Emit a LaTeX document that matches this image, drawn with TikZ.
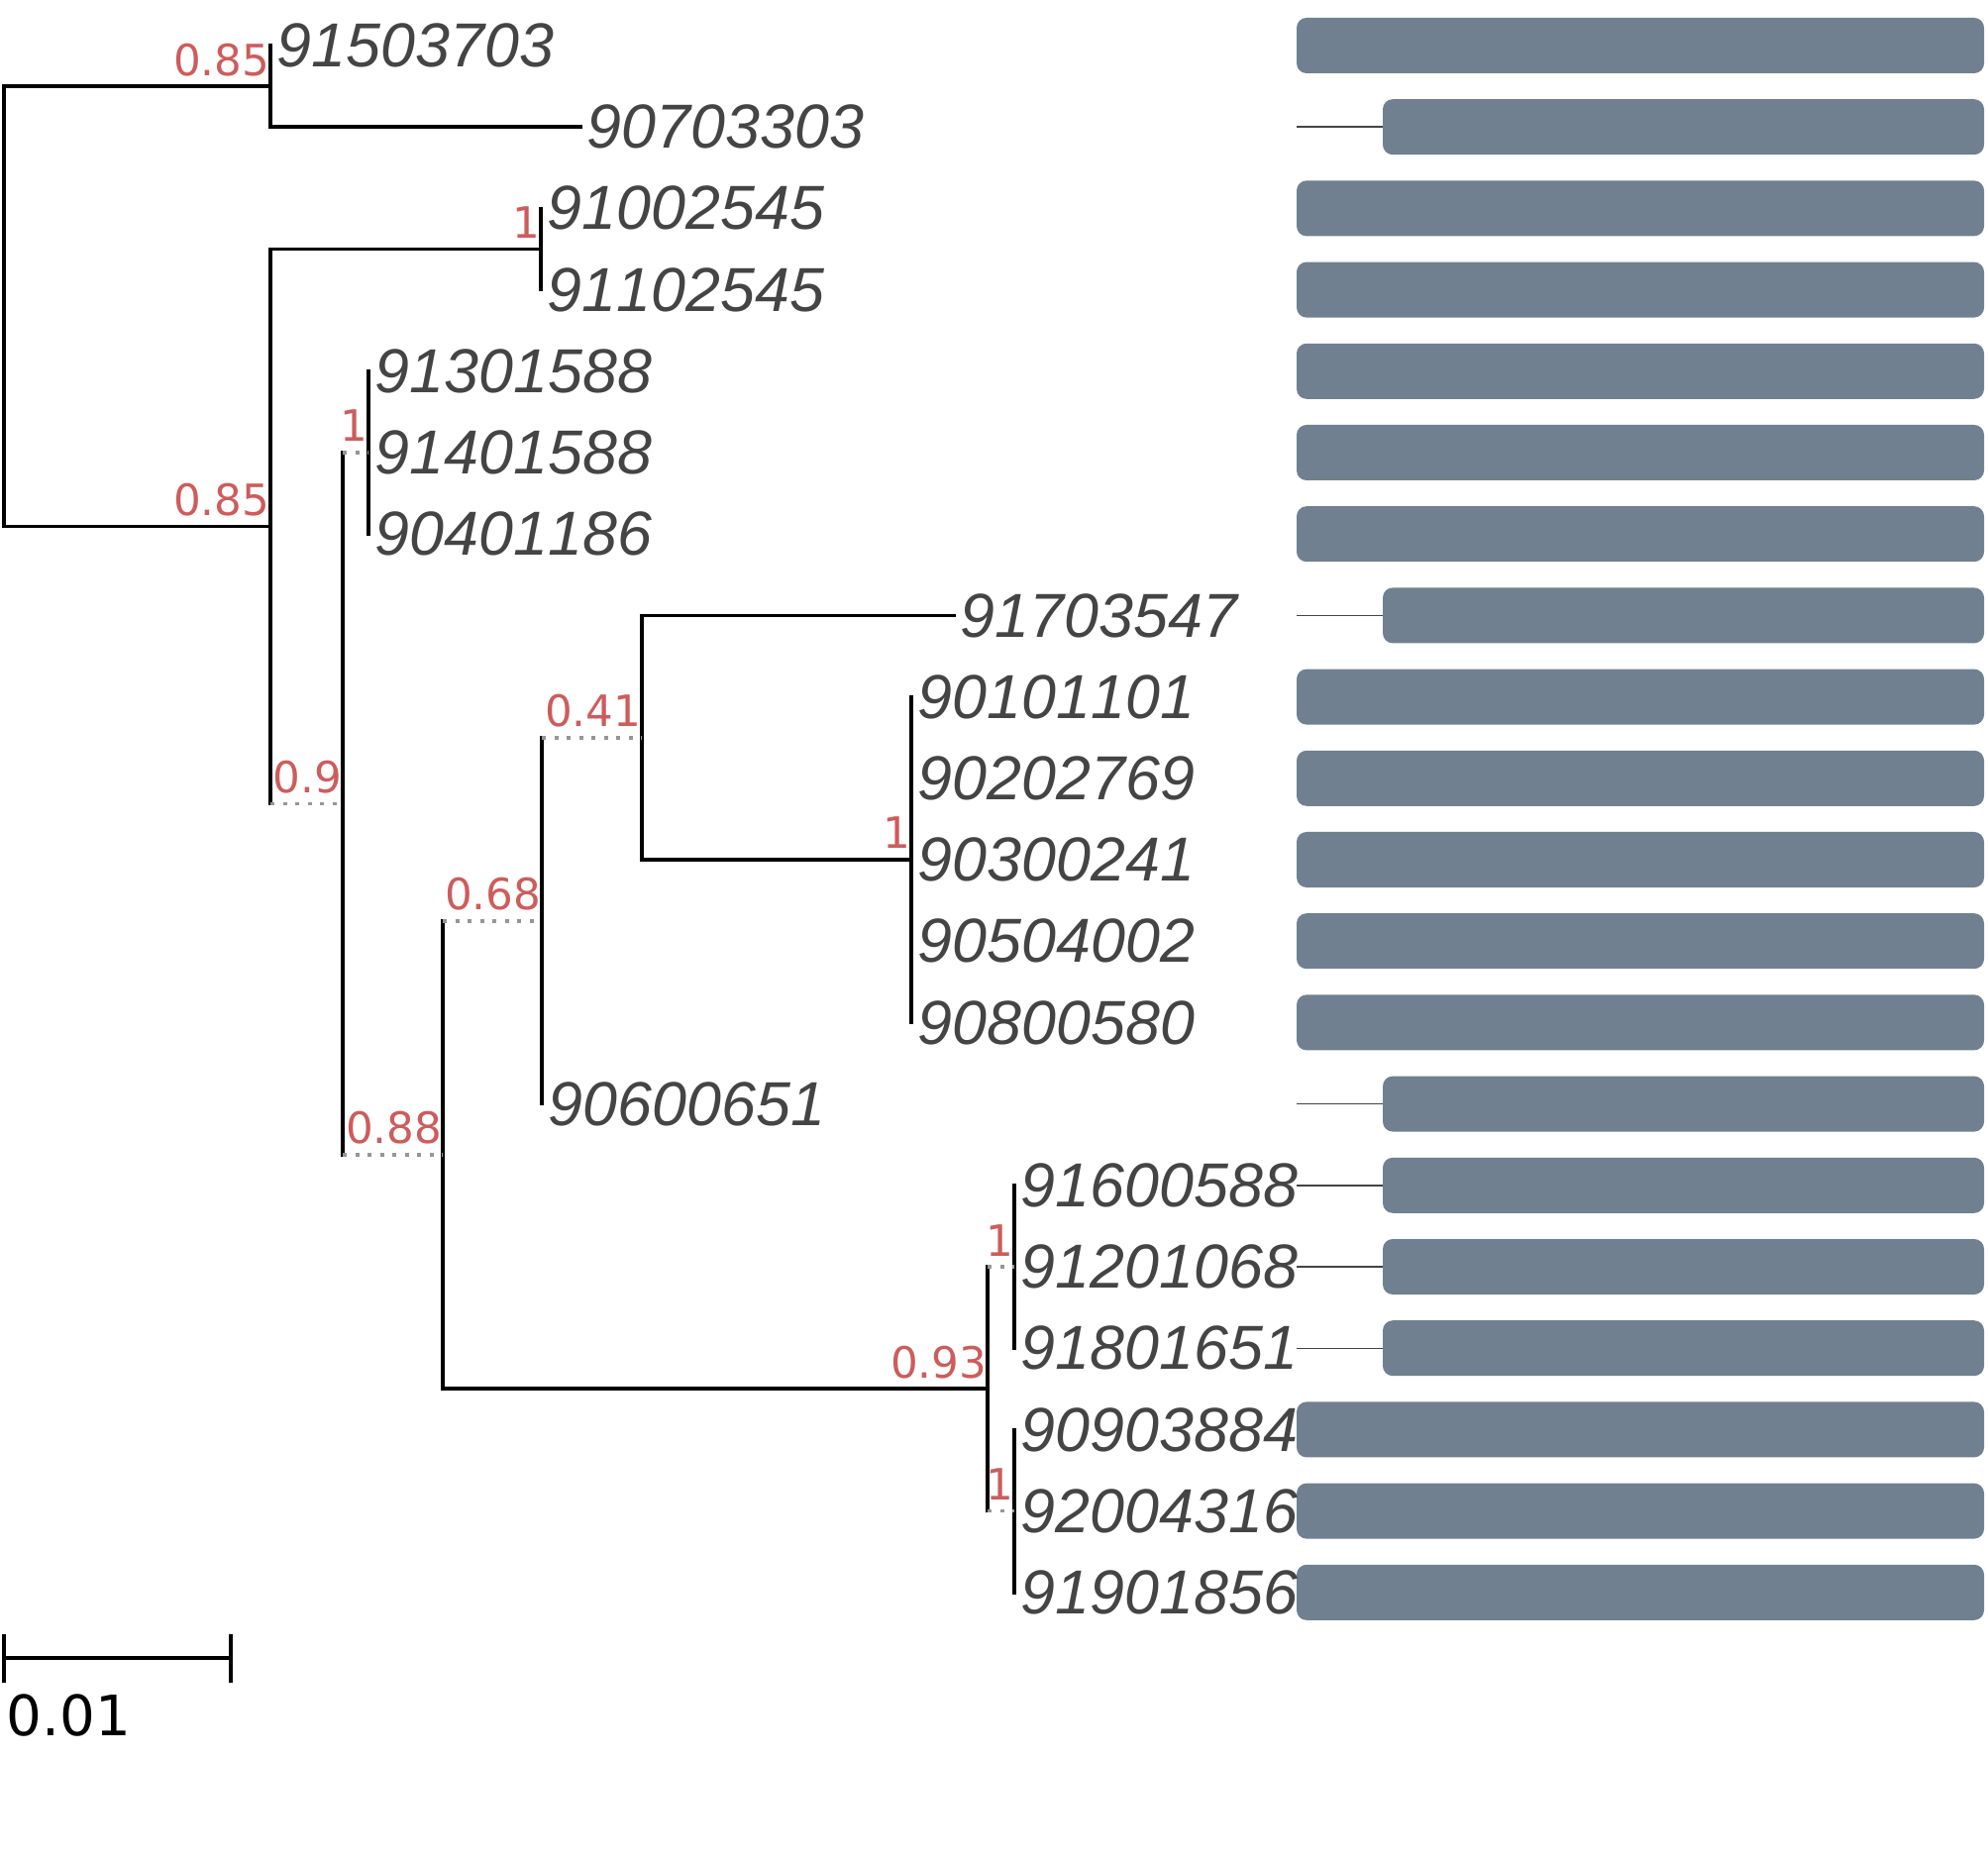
\documentclass[tikz,border=0pt]{standalone}
\usepackage{fontspec}
\setmainfont{DejaVu Sans}
\newfontfamily\leaffont{Liberation Sans}[Kerning=Off]
\usetikzlibrary{calc}
\definecolor{leafgray}{RGB}{68,68,68}
\definecolor{supred}{RGB}{205,92,92}
\definecolor{barcol}{RGB}{112,128,144}
\definecolor{dotgray}{RGB}{150,150,150}
\begin{document}
\begin{tikzpicture}[x=0.01cm,y=-0.01cm,
  branch/.style={line width=1.05pt, black, line cap=rect},
  dotbranch/.style={line width=1.05pt, dotgray, dash pattern=on 0.04cm off 0.085cm},
  support/.style={font=\fontsize{12.4}{14}\selectfont, text=supred, anchor=base east, inner sep=0pt, yshift=0.11cm},
  leaf/.style={font=\leaffont\itshape\fontsize{17.85}{20}\selectfont, text=leafgray, anchor=west, inner sep=0pt, xshift=0.06cm},
  bar/.style={fill=barcol, rounded corners=0.1cm},
  barline/.style={line width=0.4pt, leafgray},
  scalebar/.style={line width=1.3pt, black}]
\useasboundingbox (0,0) rectangle (2007,1880);

% internal nodes
\coordinate (R) at (4,308.8);
\coordinate (A) at (273,87.1);
\coordinate (B) at (273,531.5);
\coordinate (C) at (546,251.5);
\coordinate (D) at (346,811.5);
\coordinate (E) at (372,457.0);
\coordinate (F) at (447,1166.0);
\coordinate (G) at (547,929.7);
\coordinate (H) at (648,744.7);
\coordinate (I) at (920,868.0);
\coordinate (J) at (997,1402.3);
\coordinate (K) at (1024,1279.0);
\coordinate (L) at (1024,1525.6);

% leaves
\coordinate (l1) at (273,46.0);
\coordinate (l2) at (586,128.2);
\coordinate (l3) at (546,210.4);
\coordinate (l4) at (546,292.6);
\coordinate (l5) at (372,374.8);
\coordinate (l6) at (372,457.0);
\coordinate (l7) at (372,539.2);
\coordinate (l8) at (963,621.4);
\coordinate (l9) at (920,703.6);
\coordinate (l10) at (920,785.8);
\coordinate (l11) at (920,868.0);
\coordinate (l12) at (920,950.2);
\coordinate (l13) at (920,1032.4);
\coordinate (l14) at (547,1114.6);
\coordinate (l15) at (1024,1196.8);
\coordinate (l16) at (1024,1279.0);
\coordinate (l17) at (1024,1361.2);
\coordinate (l18) at (1024,1443.4);
\coordinate (l19) at (1024,1525.6);
\coordinate (l20) at (1024,1607.8);

% bars
\foreach \yy in {46.0,210.4,292.6,374.8,457.0,539.2,703.6,785.8,868.0,950.2,1032.4,1443.4,1525.6,1607.8}
  \fill[bar] (1309,\yy-28) rectangle (2003,\yy+28);
\foreach \yy in {128.2,621.4,1114.6,1196.8,1279.0,1361.2}{
  \draw[barline] (1309,\yy) -- (1396,\yy);
  \fill[bar] (1396,\yy-28) rectangle (2003,\yy+28);
}

% verticals
\draw[branch] (R |- A) -- (R |- B);
\draw[branch] (A |- l1) -- (A |- l2);
\draw[branch] (B |- C) -- (B |- D);
\draw[branch] (C |- l3) -- (C |- l4);
\draw[branch] (D |- E) -- (D |- F);
\draw[branch] (E |- l5) -- (E |- l7);
\draw[branch] (F |- G) -- (F |- J);
\draw[branch] (G |- H) -- (G |- l14);
\draw[branch] (H |- l8) -- (H |- I);
\draw[branch] (I |- l9) -- (I |- l13);
\draw[branch] (J |- K) -- (J |- L);
\draw[branch] (K |- l15) -- (K |- l17);
\draw[branch] (L |- l18) -- (L |- l20);

% horizontals
\draw[branch] (R |- A) -- (A);
\draw[branch] (R |- B) -- (B);
\draw[branch] (A |- l2) -- (l2);
\draw[branch] (B |- C) -- (C);
\draw[dotbranch] (B |- D) -- (D);
\draw[dotbranch] (D |- E) -- (E);
\draw[dotbranch] (D |- F) -- (F);
\draw[dotbranch] (F |- G) -- (G);
\draw[branch] (F |- J) -- (J);
\draw[dotbranch] (G |- H) -- (H);
\draw[branch] (H |- l8) -- (l8);
\draw[branch] (H |- I) -- (I);
\draw[dotbranch] (J |- K) -- (K);
\draw[dotbranch] (J |- L) -- (L);

% support values
\node[support] (sA) at (A) {0.85};
\node[support] (sB) at (B) {0.85};
\node[support] (sC) at (C) {1};
\node[support] (sD) at (D) {0.9};
\node[support] (sE) at (E) {1};
\node[support] (sF) at (F) {0.88};
\node[support] (sG) at (G) {0.68};
\node[support] (sH) at (H) {0.41};
\node[support] (sI) at (I) {1};
\node[support] (sJ) at (J) {0.93};
\node[support] (sK) at (K) {1};
\node[support] (sL) at (L) {1};

% leaf labels
\node[leaf] (t1) at (l1) {91503703};
\node[leaf] (t2) at (l2) {90703303};
\node[leaf] (t3) at (l3) {91002545};
\node[leaf] (t4) at (l4) {91102545};
\node[leaf] (t5) at (l5) {91301588};
\node[leaf] (t6) at (l6) {91401588};
\node[leaf] (t7) at (l7) {90401186};
\node[leaf] (t8) at (l8) {91703547};
\node[leaf] (t9) at (l9) {90101101};
\node[leaf] (t10) at (l10) {90202769};
\node[leaf] (t11) at (l11) {90300241};
\node[leaf] (t12) at (l12) {90504002};
\node[leaf] (t13) at (l13) {90800580};
\node[leaf] (t14) at (l14) {90600651};
\node[leaf] (t15) at (l15) {91600588};
\node[leaf] (t16) at (l16) {91201068};
\node[leaf] (t17) at (l17) {91801651};
\node[leaf] (t18) at (l18) {90903884};
\node[leaf] (t19) at (l19) {92004316};
\node[leaf] (t20) at (l20) {91901856};

% scale bar
\coordinate (sb1) at (4,1674);
\coordinate (sb2) at (233,1674);
\draw[scalebar] (sb1) -- (sb2);
\draw[scalebar] ([yshift=0.245cm]sb1) -- ([yshift=-0.245cm]sb1);
\draw[scalebar] ([yshift=0.245cm]sb2) -- ([yshift=-0.245cm]sb2);
\node[font=\fontsize{16}{18}\selectfont, anchor=base west, inner sep=0pt] (sbt) at (6,1752) {0.01};
\end{tikzpicture}
\end{document}
